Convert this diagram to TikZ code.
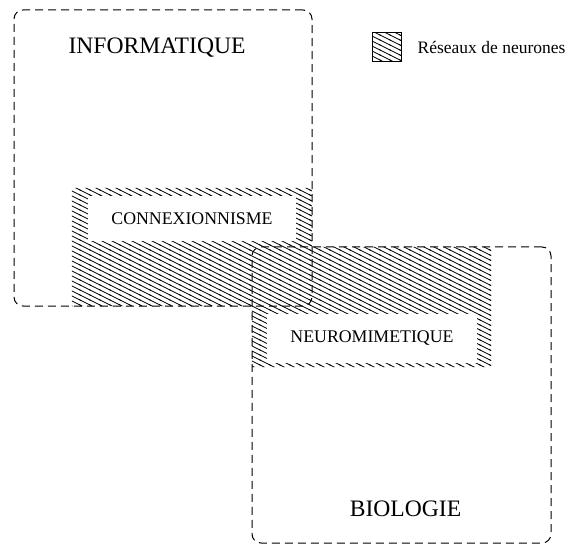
\documentclass[tikz,border=0pt]{standalone}
\usepackage{fontspec}
\setmainfont{Liberation Serif}
\usetikzlibrary{patterns, positioning}

% hatching for the neural network zones, anchored to the page
\pgfdeclarepatternformonly{neuronhatch}{\pgfqpoint{-1pt}{-1pt}}{\pgfqpoint{11pt}{6pt}}{\pgfqpoint{10pt}{5pt}}{
    \pgfsetlinewidth{0.7pt}
    \pgfpathmoveto{\pgfqpoint{-1pt}{5.5pt}}
    \pgfpathlineto{\pgfqpoint{11pt}{-0.5pt}}
    \pgfusepath{stroke}
}

\tikzset{
    domainbox/.style={rectangle, draw, rounded corners=9pt, line width=1pt, dash pattern=on 8pt off 5pt, inner sep=0pt},
    hatchzone/.style={rectangle, inner sep=0pt},
    labelbox/.style={rectangle, fill=white, inner sep=0pt, font=\fontsize{17.8}{20}\selectfont}
}

\begin{document}
\begin{tikzpicture}[x=1pt, y=-1pt]
    \useasboundingbox (0,0) rectangle (567,545);

    % Hatched zones (neural networks), filled as one path
    \node (hatchC) [hatchzone, minimum width=240pt, minimum height=118pt] at (192,247) {};
    \node (hatchN) [hatchzone, minimum width=239pt, minimum height=120pt] at (371.5,307) {};
    \fill[pattern=neuronhatch] (hatchC.north west) rectangle (hatchC.south east)
        (hatchN.north west) rectangle (hatchN.south east);

    % White label boxes inside the hatched zones
    \node (connex) [labelbox, minimum width=208pt, minimum height=45pt] at (192,219) {CONNEXIONNISME};
    \node (neuro) [labelbox, minimum width=210pt, minimum height=49pt] at (372,338) {NEUROMIMETIQUE};

    % The two domains
    \node (info) [domainbox, minimum width=298pt, minimum height=296pt] at (163,158) {};
    \node (bio) [domainbox, minimum width=299pt, minimum height=296pt] at (401.5,395) {};
    \node (infoLabel) [anchor=base, inner sep=0pt, font=\fontsize{23.6}{26}\selectfont] at (157,54) {INFORMATIQUE};
    \node (bioLabel) [anchor=base, inner sep=0pt, font=\fontsize{23.6}{26}\selectfont] at (405.5,516) {BIOLOGIE};

    % Legend
    \node (legendBox) [hatchzone, draw, line width=1pt, minimum size=29pt, pattern=neuronhatch] at (386.5,47.5) {};
    \node (legendText) [right=16pt of legendBox, inner sep=0pt, font=\fontsize{17.5}{20}\selectfont] {Réseaux de neurones};
\end{tikzpicture}
\end{document}
